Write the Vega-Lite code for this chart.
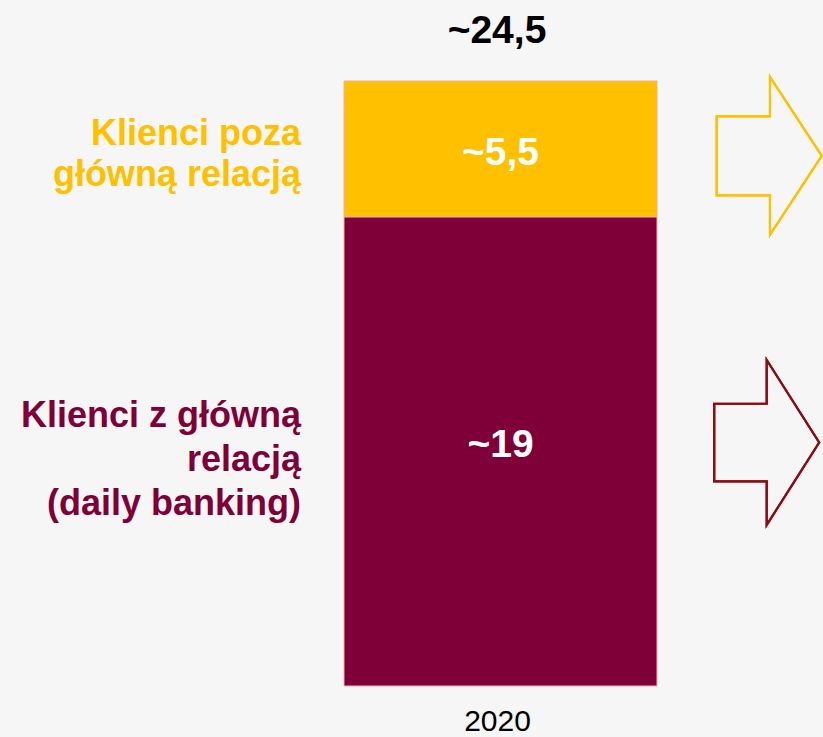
{
  "$schema": "https://vega.github.io/schema/vega-lite/v6.json",
  "width": 823,
  "height": 737,
  "padding": 0,
  "autosize": {"type": "none"},
  "background": "#F6F6F6",
  "config": {"view": {"stroke": null}, "font": "Liberation Sans"},
  "data": {
    "values": [
      {"year": "2020", "segment": "Klienci z główną\nrelacją\n(daily banking)", "order": 1, "value": 19},
      {"year": "2020", "segment": "Klienci poza\ngłówną relacją", "order": 2, "value": 5.5}
    ]
  },
  "transform": [
    {"stack": "value", "groupby": ["year"], "sort": [{"field": "order", "order": "ascending"}], "as": ["v0", "v1"]},
    {"calculate": "(datum.v0 + datum.v1) / 2", "as": "mid"},
    {"calculate": "'~' + replace(format(datum.value, '.1~f'), '.', ',')", "as": "label"}
  ],
  "layer": [
    {
      "mark": {"type": "bar", "stroke": "#EDB2A0", "strokeWidth": 1},
      "encoding": {
        "x": {"datum": 344, "type": "quantitative", "scale": {"domain": [0, 823], "nice": false, "zero": false}, "axis": null},
        "x2": {"datum": 657},
        "y": {"field": "v0", "type": "quantitative", "scale": {"domain": [-2.0653, 27.780], "nice": false, "zero": false}, "axis": null},
        "y2": {"field": "v1"},
        "color": {"field": "segment", "type": "nominal", "legend": null,
          "scale": {"domain": ["Klienci z główną\nrelacją\n(daily banking)", "Klienci poza\ngłówną relacją"], "range": ["#7F0038", "#FFC000"]}}
      }
    },
    {
      "transform": [{"filter": "datum.order == 2"}],
      "layer": [
        {
          "mark": {"type": "text", "font": "Liberation Sans", "fontWeight": "bold", "fontSize": 39, "color": "#FFFFFF", "align": "center", "baseline": "alphabetic", "dy": 16},
          "encoding": {
            "x": {"datum": 500.5, "type": "quantitative"},
            "y": {"field": "mid", "type": "quantitative"},
            "text": {"field": "label"}
          }
        },
        {
          "mark": {"type": "text", "font": "Liberation Sans", "fontWeight": "bold", "fontSize": 36, "align": "right", "baseline": "alphabetic", "lineBreak": "\n", "lineHeight": 41, "dy": -4},
          "encoding": {
            "x": {"datum": 301, "type": "quantitative"},
            "y": {"field": "mid", "type": "quantitative"},
            "text": {"field": "segment"},
            "color": {"field": "segment", "type": "nominal", "legend": null}
          }
        }
      ]
    },
    {
      "transform": [{"filter": "datum.order == 1"}],
      "layer": [
        {
          "mark": {"type": "text", "font": "Liberation Sans", "fontWeight": "bold", "fontSize": 39, "color": "#FFFFFF", "align": "center", "baseline": "alphabetic", "dy": 6},
          "encoding": {
            "x": {"datum": 500.5, "type": "quantitative"},
            "y": {"field": "mid", "type": "quantitative"},
            "text": {"field": "label"}
          }
        },
        {
          "mark": {"type": "text", "font": "Liberation Sans", "fontWeight": "bold", "fontSize": 36, "align": "right", "baseline": "alphabetic", "lineBreak": "\n", "lineHeight": 44, "dy": -24},
          "encoding": {
            "x": {"datum": 301, "type": "quantitative"},
            "y": {"field": "mid", "type": "quantitative"},
            "text": {"field": "segment"},
            "color": {"field": "segment", "type": "nominal", "legend": null}
          }
        }
      ]
    },
    {
      "transform": [
        {"aggregate": [{"op": "sum", "field": "value", "as": "total"}], "groupby": ["year"]},
        {"calculate": "'~' + replace(format(datum.total, '.1~f'), '.', ',')", "as": "totalLabel"}
      ],
      "layer": [
        {
          "mark": {"type": "text", "font": "Liberation Sans", "fontWeight": "bold", "fontSize": 39, "color": "#000000", "align": "center", "baseline": "alphabetic", "dy": -38},
          "encoding": {
            "x": {"datum": 497, "type": "quantitative"},
            "y": {"field": "total", "type": "quantitative"},
            "text": {"field": "totalLabel"}
          }
        },
        {
          "mark": {"type": "text", "font": "Liberation Sans", "fontSize": 30, "color": "#000000", "align": "center", "baseline": "alphabetic", "dy": 45},
          "encoding": {
            "x": {"datum": 497.5, "type": "quantitative"},
            "y": {"datum": 0, "type": "quantitative"},
            "text": {"field": "year"}
          }
        }
      ]
    },
    {
      "mark": {"type": "point", "filled": false, "opacity": 1, "strokeWidth": 2.2, "color": "#FFC000",
        "shape": "M-0.665,-0.5L0.01,-0.5L0.01,-1L0.665,0L0.01,1L0.01,0.5L-0.665,0.5Z", "size": 24964},
      "encoding": {
        "x": {"datum": 769.2, "type": "quantitative"},
        "y": {"datum": 21.47, "type": "quantitative"}
      }
    },
    {
      "mark": {"type": "point", "filled": false, "opacity": 1, "strokeWidth": 2.2, "color": "#8E0A12",
        "shape": "M-0.636,-0.47L0,-0.47L0,-1L0.636,0L0,1L0,0.47L-0.636,0.47Z", "size": 27225},
      "encoding": {
        "x": {"datum": 766.7, "type": "quantitative"},
        "y": {"datum": 9.86, "type": "quantitative"}
      }
    }
  ]
}
